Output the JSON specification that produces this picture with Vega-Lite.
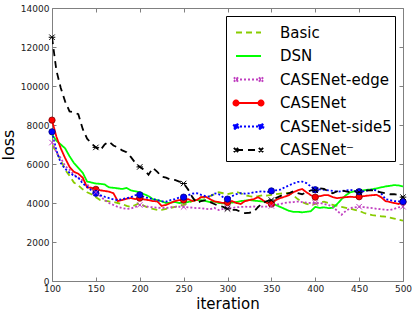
{
"$schema": "https://vega.github.io/schema/vega-lite/v6.json",
"width": 351, "height": 273,
"autosize": {"type": "none"},
"padding": {"left": 52, "top": 8, "right": 12, "bottom": 31},
"config": {
  "font": "DejaVu Sans",
  "view": {"stroke": "#808080", "strokeWidth": 1},
  "axis": {"domain": false, "grid": false, "tickColor": "#808080", "tickSize": 4, "labelFont": "DejaVu Sans", "labelFontSize": 9, "labelColor": "#222222", "labelFlush": false, "titleFont": "DejaVu Sans", "titleFontSize": 16, "titleFontWeight": "normal", "titleColor": "#000000", "labelPadding": 3},
  "legend": {"orient": "top-right", "offset": 8, "padding": 3, "strokeColor": "#000000", "fillColor": "#ffffff", "symbolType": "stroke", "symbolSize": 625, "symbolStrokeWidth": 2, "symbolOffset": 6, "labelFont": "DejaVu Sans", "labelFontSize": 15, "labelColor": "#000000", "rowPadding": 1.5, "labelOffset": 18, "cornerRadius": 0}
},
"data": {"values": [
{"series":"Basic","iteration":100,"loss":7000},{"series":"Basic","iteration":105,"loss":6600},{"series":"Basic","iteration":110,"loss":6200},{"series":"Basic","iteration":115,"loss":5700},{"series":"Basic","iteration":120,"loss":5400},{"series":"Basic","iteration":125,"loss":5050},{"series":"Basic","iteration":130,"loss":4900},{"series":"Basic","iteration":135,"loss":4700},{"series":"Basic","iteration":140,"loss":4550},{"series":"Basic","iteration":145,"loss":4450},{"series":"Basic","iteration":150,"loss":4300},{"series":"Basic","iteration":155,"loss":4150},{"series":"Basic","iteration":160,"loss":4120},{"series":"Basic","iteration":165,"loss":4080},{"series":"Basic","iteration":170,"loss":4050},{"series":"Basic","iteration":175,"loss":4000},{"series":"Basic","iteration":180,"loss":3950},{"series":"Basic","iteration":185,"loss":3850},{"series":"Basic","iteration":190,"loss":3800},{"series":"Basic","iteration":195,"loss":3900},{"series":"Basic","iteration":200,"loss":4000},{"series":"Basic","iteration":205,"loss":3850},{"series":"Basic","iteration":210,"loss":3750},{"series":"Basic","iteration":215,"loss":3700},{"series":"Basic","iteration":220,"loss":3650},{"series":"Basic","iteration":225,"loss":3650},{"series":"Basic","iteration":230,"loss":3700},{"series":"Basic","iteration":235,"loss":3750},{"series":"Basic","iteration":240,"loss":3800},{"series":"Basic","iteration":245,"loss":3850},{"series":"Basic","iteration":250,"loss":3900},{"series":"Basic","iteration":255,"loss":4000},{"series":"Basic","iteration":260,"loss":4100},{"series":"Basic","iteration":265,"loss":4200},{"series":"Basic","iteration":270,"loss":4300},{"series":"Basic","iteration":275,"loss":4250},{"series":"Basic","iteration":280,"loss":4350},{"series":"Basic","iteration":285,"loss":4450},{"series":"Basic","iteration":290,"loss":4550},{"series":"Basic","iteration":295,"loss":4500},{"series":"Basic","iteration":300,"loss":4450},{"series":"Basic","iteration":305,"loss":4500},{"series":"Basic","iteration":310,"loss":4580},{"series":"Basic","iteration":315,"loss":4500},{"series":"Basic","iteration":320,"loss":4400},{"series":"Basic","iteration":325,"loss":4350},{"series":"Basic","iteration":330,"loss":4320},{"series":"Basic","iteration":335,"loss":4350},{"series":"Basic","iteration":340,"loss":4400},{"series":"Basic","iteration":345,"loss":4380},{"series":"Basic","iteration":350,"loss":4420},{"series":"Basic","iteration":355,"loss":4450},{"series":"Basic","iteration":360,"loss":4480},{"series":"Basic","iteration":365,"loss":4500},{"series":"Basic","iteration":370,"loss":4520},{"series":"Basic","iteration":375,"loss":4400},{"series":"Basic","iteration":380,"loss":4200},{"series":"Basic","iteration":385,"loss":4050},{"series":"Basic","iteration":390,"loss":3950},{"series":"Basic","iteration":395,"loss":3900},{"series":"Basic","iteration":400,"loss":3950},{"series":"Basic","iteration":405,"loss":4000},{"series":"Basic","iteration":410,"loss":4070},{"series":"Basic","iteration":415,"loss":4000},{"series":"Basic","iteration":420,"loss":3900},{"series":"Basic","iteration":425,"loss":3850},{"series":"Basic","iteration":430,"loss":3800},{"series":"Basic","iteration":435,"loss":3750},{"series":"Basic","iteration":440,"loss":3700},{"series":"Basic","iteration":445,"loss":3650},{"series":"Basic","iteration":450,"loss":3600},{"series":"Basic","iteration":455,"loss":3500},{"series":"Basic","iteration":460,"loss":3420},{"series":"Basic","iteration":465,"loss":3380},{"series":"Basic","iteration":470,"loss":3350},{"series":"Basic","iteration":475,"loss":3320},{"series":"Basic","iteration":480,"loss":3300},{"series":"Basic","iteration":485,"loss":3250},{"series":"Basic","iteration":490,"loss":3200},{"series":"Basic","iteration":495,"loss":3150},{"series":"Basic","iteration":500,"loss":3100},
{"series":"DSN","iteration":100,"loss":7500},{"series":"DSN","iteration":105,"loss":7200},{"series":"DSN","iteration":110,"loss":7000},{"series":"DSN","iteration":115,"loss":6800},{"series":"DSN","iteration":120,"loss":6400},{"series":"DSN","iteration":125,"loss":6050},{"series":"DSN","iteration":130,"loss":5800},{"series":"DSN","iteration":135,"loss":5550},{"series":"DSN","iteration":140,"loss":5100},{"series":"DSN","iteration":145,"loss":5050},{"series":"DSN","iteration":150,"loss":5000},{"series":"DSN","iteration":155,"loss":4980},{"series":"DSN","iteration":160,"loss":4950},{"series":"DSN","iteration":165,"loss":4800},{"series":"DSN","iteration":170,"loss":4780},{"series":"DSN","iteration":175,"loss":4750},{"series":"DSN","iteration":180,"loss":4720},{"series":"DSN","iteration":185,"loss":4770},{"series":"DSN","iteration":190,"loss":4650},{"series":"DSN","iteration":195,"loss":4600},{"series":"DSN","iteration":200,"loss":4550},{"series":"DSN","iteration":205,"loss":4450},{"series":"DSN","iteration":210,"loss":4350},{"series":"DSN","iteration":215,"loss":4200},{"series":"DSN","iteration":220,"loss":4150},{"series":"DSN","iteration":225,"loss":4080},{"series":"DSN","iteration":230,"loss":4000},{"series":"DSN","iteration":235,"loss":4020},{"series":"DSN","iteration":240,"loss":4050},{"series":"DSN","iteration":245,"loss":4000},{"series":"DSN","iteration":250,"loss":4020},{"series":"DSN","iteration":255,"loss":4050},{"series":"DSN","iteration":260,"loss":4120},{"series":"DSN","iteration":265,"loss":4150},{"series":"DSN","iteration":270,"loss":4150},{"series":"DSN","iteration":275,"loss":4100},{"series":"DSN","iteration":280,"loss":4050},{"series":"DSN","iteration":285,"loss":4080},{"series":"DSN","iteration":290,"loss":4000},{"series":"DSN","iteration":295,"loss":3980},{"series":"DSN","iteration":300,"loss":4000},{"series":"DSN","iteration":305,"loss":4020},{"series":"DSN","iteration":310,"loss":4050},{"series":"DSN","iteration":315,"loss":4100},{"series":"DSN","iteration":320,"loss":4120},{"series":"DSN","iteration":325,"loss":4150},{"series":"DSN","iteration":330,"loss":4120},{"series":"DSN","iteration":335,"loss":4100},{"series":"DSN","iteration":340,"loss":4080},{"series":"DSN","iteration":345,"loss":4050},{"series":"DSN","iteration":350,"loss":4000},{"series":"DSN","iteration":355,"loss":3900},{"series":"DSN","iteration":360,"loss":3800},{"series":"DSN","iteration":365,"loss":3700},{"series":"DSN","iteration":370,"loss":3600},{"series":"DSN","iteration":375,"loss":3550},{"series":"DSN","iteration":380,"loss":3550},{"series":"DSN","iteration":385,"loss":3520},{"series":"DSN","iteration":390,"loss":3550},{"series":"DSN","iteration":395,"loss":3580},{"series":"DSN","iteration":400,"loss":3800},{"series":"DSN","iteration":405,"loss":3750},{"series":"DSN","iteration":410,"loss":3780},{"series":"DSN","iteration":415,"loss":3740},{"series":"DSN","iteration":420,"loss":3750},{"series":"DSN","iteration":425,"loss":3950},{"series":"DSN","iteration":430,"loss":4200},{"series":"DSN","iteration":435,"loss":4400},{"series":"DSN","iteration":440,"loss":4550},{"series":"DSN","iteration":445,"loss":4600},{"series":"DSN","iteration":450,"loss":4620},{"series":"DSN","iteration":455,"loss":4650},{"series":"DSN","iteration":460,"loss":4680},{"series":"DSN","iteration":465,"loss":4700},{"series":"DSN","iteration":470,"loss":4750},{"series":"DSN","iteration":475,"loss":4800},{"series":"DSN","iteration":480,"loss":4850},{"series":"DSN","iteration":485,"loss":4880},{"series":"DSN","iteration":490,"loss":4920},{"series":"DSN","iteration":495,"loss":4900},{"series":"DSN","iteration":500,"loss":4850},
{"series":"CASENet-edge","iteration":100,"loss":7100},{"series":"CASENet-edge","iteration":105,"loss":6600},{"series":"CASENet-edge","iteration":110,"loss":6300},{"series":"CASENet-edge","iteration":115,"loss":5900},{"series":"CASENet-edge","iteration":120,"loss":5700},{"series":"CASENet-edge","iteration":125,"loss":5450},{"series":"CASENet-edge","iteration":130,"loss":5300},{"series":"CASENet-edge","iteration":135,"loss":5150},{"series":"CASENet-edge","iteration":140,"loss":4950},{"series":"CASENet-edge","iteration":145,"loss":4750},{"series":"CASENet-edge","iteration":150,"loss":4550},{"series":"CASENet-edge","iteration":155,"loss":4350},{"series":"CASENet-edge","iteration":160,"loss":4150},{"series":"CASENet-edge","iteration":165,"loss":4000},{"series":"CASENet-edge","iteration":170,"loss":3900},{"series":"CASENet-edge","iteration":175,"loss":3800},{"series":"CASENet-edge","iteration":180,"loss":3740},{"series":"CASENet-edge","iteration":185,"loss":3700},{"series":"CASENet-edge","iteration":190,"loss":3720},{"series":"CASENet-edge","iteration":195,"loss":3800},{"series":"CASENet-edge","iteration":200,"loss":3900},{"series":"CASENet-edge","iteration":205,"loss":3850},{"series":"CASENet-edge","iteration":210,"loss":3800},{"series":"CASENet-edge","iteration":215,"loss":3780},{"series":"CASENet-edge","iteration":220,"loss":3760},{"series":"CASENet-edge","iteration":225,"loss":3750},{"series":"CASENet-edge","iteration":230,"loss":3740},{"series":"CASENet-edge","iteration":235,"loss":3780},{"series":"CASENet-edge","iteration":240,"loss":3800},{"series":"CASENet-edge","iteration":245,"loss":3810},{"series":"CASENet-edge","iteration":250,"loss":3800},{"series":"CASENet-edge","iteration":255,"loss":3780},{"series":"CASENet-edge","iteration":260,"loss":3760},{"series":"CASENet-edge","iteration":265,"loss":3740},{"series":"CASENet-edge","iteration":270,"loss":3740},{"series":"CASENet-edge","iteration":275,"loss":3700},{"series":"CASENet-edge","iteration":280,"loss":3680},{"series":"CASENet-edge","iteration":285,"loss":3750},{"series":"CASENet-edge","iteration":290,"loss":3640},{"series":"CASENet-edge","iteration":295,"loss":3700},{"series":"CASENet-edge","iteration":300,"loss":3740},{"series":"CASENet-edge","iteration":305,"loss":3740},{"series":"CASENet-edge","iteration":310,"loss":3780},{"series":"CASENet-edge","iteration":315,"loss":3800},{"series":"CASENet-edge","iteration":320,"loss":3810},{"series":"CASENet-edge","iteration":325,"loss":3800},{"series":"CASENet-edge","iteration":330,"loss":3820},{"series":"CASENet-edge","iteration":335,"loss":3800},{"series":"CASENet-edge","iteration":340,"loss":3810},{"series":"CASENet-edge","iteration":345,"loss":3820},{"series":"CASENet-edge","iteration":350,"loss":3850},{"series":"CASENet-edge","iteration":355,"loss":3900},{"series":"CASENet-edge","iteration":360,"loss":3950},{"series":"CASENet-edge","iteration":365,"loss":4000},{"series":"CASENet-edge","iteration":370,"loss":4030},{"series":"CASENet-edge","iteration":375,"loss":4050},{"series":"CASENet-edge","iteration":380,"loss":4070},{"series":"CASENet-edge","iteration":385,"loss":4050},{"series":"CASENet-edge","iteration":390,"loss":4020},{"series":"CASENet-edge","iteration":395,"loss":4000},{"series":"CASENet-edge","iteration":400,"loss":4000},{"series":"CASENet-edge","iteration":405,"loss":4000},{"series":"CASENet-edge","iteration":410,"loss":3950},{"series":"CASENet-edge","iteration":415,"loss":3900},{"series":"CASENet-edge","iteration":420,"loss":3810},{"series":"CASENet-edge","iteration":425,"loss":3600},{"series":"CASENet-edge","iteration":430,"loss":3400},{"series":"CASENet-edge","iteration":435,"loss":3600},{"series":"CASENet-edge","iteration":440,"loss":3740},{"series":"CASENet-edge","iteration":445,"loss":3780},{"series":"CASENet-edge","iteration":450,"loss":3810},{"series":"CASENet-edge","iteration":455,"loss":3790},{"series":"CASENet-edge","iteration":460,"loss":3760},{"series":"CASENet-edge","iteration":465,"loss":3740},{"series":"CASENet-edge","iteration":470,"loss":3700},{"series":"CASENet-edge","iteration":475,"loss":3680},{"series":"CASENet-edge","iteration":480,"loss":3650},{"series":"CASENet-edge","iteration":485,"loss":3640},{"series":"CASENet-edge","iteration":490,"loss":3700},{"series":"CASENet-edge","iteration":495,"loss":3780},{"series":"CASENet-edge","iteration":500,"loss":3810},
{"series":"CASENet","iteration":100,"loss":8250},{"series":"CASENet","iteration":105,"loss":7400},{"series":"CASENet","iteration":110,"loss":6800},{"series":"CASENet","iteration":115,"loss":6300},{"series":"CASENet","iteration":120,"loss":5850},{"series":"CASENet","iteration":125,"loss":5600},{"series":"CASENet","iteration":130,"loss":5500},{"series":"CASENet","iteration":135,"loss":5300},{"series":"CASENet","iteration":140,"loss":4800},{"series":"CASENet","iteration":145,"loss":4780},{"series":"CASENet","iteration":150,"loss":4700},{"series":"CASENet","iteration":155,"loss":4650},{"series":"CASENet","iteration":160,"loss":4620},{"series":"CASENet","iteration":165,"loss":4580},{"series":"CASENet","iteration":170,"loss":4500},{"series":"CASENet","iteration":175,"loss":4100},{"series":"CASENet","iteration":180,"loss":4150},{"series":"CASENet","iteration":185,"loss":4220},{"series":"CASENet","iteration":190,"loss":4250},{"series":"CASENet","iteration":195,"loss":4200},{"series":"CASENet","iteration":200,"loss":4250},{"series":"CASENet","iteration":205,"loss":4180},{"series":"CASENet","iteration":210,"loss":4150},{"series":"CASENet","iteration":215,"loss":4100},{"series":"CASENet","iteration":220,"loss":4080},{"series":"CASENet","iteration":225,"loss":3850},{"series":"CASENet","iteration":230,"loss":3900},{"series":"CASENet","iteration":235,"loss":4000},{"series":"CASENet","iteration":240,"loss":4100},{"series":"CASENet","iteration":245,"loss":4150},{"series":"CASENet","iteration":250,"loss":4150},{"series":"CASENet","iteration":255,"loss":4200},{"series":"CASENet","iteration":260,"loss":4100},{"series":"CASENet","iteration":265,"loss":4150},{"series":"CASENet","iteration":270,"loss":4300},{"series":"CASENet","iteration":275,"loss":4320},{"series":"CASENet","iteration":280,"loss":4200},{"series":"CASENet","iteration":285,"loss":4080},{"series":"CASENet","iteration":290,"loss":4050},{"series":"CASENet","iteration":295,"loss":4000},{"series":"CASENet","iteration":300,"loss":4020},{"series":"CASENet","iteration":305,"loss":4100},{"series":"CASENet","iteration":310,"loss":4000},{"series":"CASENet","iteration":315,"loss":3950},{"series":"CASENet","iteration":320,"loss":4100},{"series":"CASENet","iteration":325,"loss":4150},{"series":"CASENet","iteration":330,"loss":4200},{"series":"CASENet","iteration":335,"loss":4300},{"series":"CASENet","iteration":340,"loss":4150},{"series":"CASENet","iteration":345,"loss":4000},{"series":"CASENet","iteration":350,"loss":3950},{"series":"CASENet","iteration":355,"loss":4150},{"series":"CASENet","iteration":360,"loss":4250},{"series":"CASENet","iteration":365,"loss":4320},{"series":"CASENet","iteration":370,"loss":4400},{"series":"CASENet","iteration":375,"loss":4550},{"series":"CASENet","iteration":380,"loss":4650},{"series":"CASENet","iteration":385,"loss":4720},{"series":"CASENet","iteration":390,"loss":4550},{"series":"CASENet","iteration":395,"loss":4400},{"series":"CASENet","iteration":400,"loss":4300},{"series":"CASENet","iteration":405,"loss":4350},{"series":"CASENet","iteration":410,"loss":4400},{"series":"CASENet","iteration":415,"loss":4400},{"series":"CASENet","iteration":420,"loss":4300},{"series":"CASENet","iteration":425,"loss":4250},{"series":"CASENet","iteration":430,"loss":4280},{"series":"CASENet","iteration":435,"loss":4300},{"series":"CASENet","iteration":440,"loss":4320},{"series":"CASENet","iteration":445,"loss":4300},{"series":"CASENet","iteration":450,"loss":4320},{"series":"CASENet","iteration":455,"loss":4350},{"series":"CASENet","iteration":460,"loss":4380},{"series":"CASENet","iteration":465,"loss":4400},{"series":"CASENet","iteration":470,"loss":4420},{"series":"CASENet","iteration":475,"loss":4300},{"series":"CASENet","iteration":480,"loss":4100},{"series":"CASENet","iteration":485,"loss":4050},{"series":"CASENet","iteration":490,"loss":4000},{"series":"CASENet","iteration":495,"loss":3950},{"series":"CASENet","iteration":500,"loss":4050},
{"series":"CASENet-side5","iteration":100,"loss":7650},{"series":"CASENet-side5","iteration":105,"loss":6700},{"series":"CASENet-side5","iteration":110,"loss":6050},{"series":"CASENet-side5","iteration":115,"loss":5750},{"series":"CASENet-side5","iteration":120,"loss":5550},{"series":"CASENet-side5","iteration":125,"loss":5400},{"series":"CASENet-side5","iteration":130,"loss":5300},{"series":"CASENet-side5","iteration":135,"loss":5000},{"series":"CASENet-side5","iteration":140,"loss":4830},{"series":"CASENet-side5","iteration":145,"loss":4650},{"series":"CASENet-side5","iteration":150,"loss":4500},{"series":"CASENet-side5","iteration":155,"loss":4400},{"series":"CASENet-side5","iteration":160,"loss":4320},{"series":"CASENet-side5","iteration":165,"loss":4250},{"series":"CASENet-side5","iteration":170,"loss":4180},{"series":"CASENet-side5","iteration":175,"loss":4150},{"series":"CASENet-side5","iteration":180,"loss":4200},{"series":"CASENet-side5","iteration":185,"loss":4250},{"series":"CASENet-side5","iteration":190,"loss":4300},{"series":"CASENet-side5","iteration":195,"loss":4400},{"series":"CASENet-side5","iteration":200,"loss":4420},{"series":"CASENet-side5","iteration":205,"loss":4300},{"series":"CASENet-side5","iteration":210,"loss":4250},{"series":"CASENet-side5","iteration":215,"loss":4200},{"series":"CASENet-side5","iteration":220,"loss":4150},{"series":"CASENet-side5","iteration":225,"loss":4100},{"series":"CASENet-side5","iteration":230,"loss":4070},{"series":"CASENet-side5","iteration":235,"loss":4150},{"series":"CASENet-side5","iteration":240,"loss":4200},{"series":"CASENet-side5","iteration":245,"loss":4280},{"series":"CASENet-side5","iteration":250,"loss":4300},{"series":"CASENet-side5","iteration":255,"loss":4400},{"series":"CASENet-side5","iteration":260,"loss":4480},{"series":"CASENet-side5","iteration":265,"loss":4500},{"series":"CASENet-side5","iteration":270,"loss":4420},{"series":"CASENet-side5","iteration":275,"loss":4350},{"series":"CASENet-side5","iteration":280,"loss":4320},{"series":"CASENet-side5","iteration":285,"loss":4500},{"series":"CASENet-side5","iteration":290,"loss":4450},{"series":"CASENet-side5","iteration":295,"loss":4300},{"series":"CASENet-side5","iteration":300,"loss":4200},{"series":"CASENet-side5","iteration":305,"loss":4350},{"series":"CASENet-side5","iteration":310,"loss":4450},{"series":"CASENet-side5","iteration":315,"loss":4500},{"series":"CASENet-side5","iteration":320,"loss":4480},{"series":"CASENet-side5","iteration":325,"loss":4500},{"series":"CASENet-side5","iteration":330,"loss":4550},{"series":"CASENet-side5","iteration":335,"loss":4580},{"series":"CASENet-side5","iteration":340,"loss":4600},{"series":"CASENet-side5","iteration":345,"loss":4550},{"series":"CASENet-side5","iteration":350,"loss":4620},{"series":"CASENet-side5","iteration":355,"loss":4650},{"series":"CASENet-side5","iteration":360,"loss":4680},{"series":"CASENet-side5","iteration":365,"loss":4800},{"series":"CASENet-side5","iteration":370,"loss":4900},{"series":"CASENet-side5","iteration":375,"loss":5000},{"series":"CASENet-side5","iteration":380,"loss":5080},{"series":"CASENet-side5","iteration":385,"loss":5100},{"series":"CASENet-side5","iteration":390,"loss":5020},{"series":"CASENet-side5","iteration":395,"loss":4850},{"series":"CASENet-side5","iteration":400,"loss":4680},{"series":"CASENet-side5","iteration":405,"loss":4700},{"series":"CASENet-side5","iteration":410,"loss":4680},{"series":"CASENet-side5","iteration":415,"loss":4650},{"series":"CASENet-side5","iteration":420,"loss":4620},{"series":"CASENet-side5","iteration":425,"loss":4580},{"series":"CASENet-side5","iteration":430,"loss":4600},{"series":"CASENet-side5","iteration":435,"loss":4650},{"series":"CASENet-side5","iteration":440,"loss":4670},{"series":"CASENet-side5","iteration":445,"loss":4620},{"series":"CASENet-side5","iteration":450,"loss":4580},{"series":"CASENet-side5","iteration":455,"loss":4600},{"series":"CASENet-side5","iteration":460,"loss":4650},{"series":"CASENet-side5","iteration":465,"loss":4680},{"series":"CASENet-side5","iteration":470,"loss":4650},{"series":"CASENet-side5","iteration":475,"loss":4500},{"series":"CASENet-side5","iteration":480,"loss":4200},{"series":"CASENet-side5","iteration":485,"loss":4150},{"series":"CASENet-side5","iteration":490,"loss":4100},{"series":"CASENet-side5","iteration":495,"loss":4080},{"series":"CASENet-side5","iteration":500,"loss":4070},
{"series":"CASENet⁻","iteration":100,"loss":12500},{"series":"CASENet⁻","iteration":105,"loss":10800},{"series":"CASENet⁻","iteration":110,"loss":9900},{"series":"CASENet⁻","iteration":115,"loss":9200},{"series":"CASENet⁻","iteration":120,"loss":8700},{"series":"CASENet⁻","iteration":125,"loss":8650},{"series":"CASENet⁻","iteration":130,"loss":8550},{"series":"CASENet⁻","iteration":135,"loss":7800},{"series":"CASENet⁻","iteration":140,"loss":7300},{"series":"CASENet⁻","iteration":145,"loss":7050},{"series":"CASENet⁻","iteration":150,"loss":6850},{"series":"CASENet⁻","iteration":155,"loss":6700},{"series":"CASENet⁻","iteration":160,"loss":7000},{"series":"CASENet⁻","iteration":165,"loss":7150},{"series":"CASENet⁻","iteration":170,"loss":6950},{"series":"CASENet⁻","iteration":175,"loss":6850},{"series":"CASENet⁻","iteration":180,"loss":6700},{"series":"CASENet⁻","iteration":185,"loss":6600},{"series":"CASENet⁻","iteration":190,"loss":6350},{"series":"CASENet⁻","iteration":195,"loss":6050},{"series":"CASENet⁻","iteration":200,"loss":5850},{"series":"CASENet⁻","iteration":205,"loss":5700},{"series":"CASENet⁻","iteration":210,"loss":5450},{"series":"CASENet⁻","iteration":215,"loss":5800},{"series":"CASENet⁻","iteration":220,"loss":5600},{"series":"CASENet⁻","iteration":225,"loss":5350},{"series":"CASENet⁻","iteration":230,"loss":5300},{"series":"CASENet⁻","iteration":235,"loss":5200},{"series":"CASENet⁻","iteration":240,"loss":5180},{"series":"CASENet⁻","iteration":245,"loss":5100},{"series":"CASENet⁻","iteration":250,"loss":5000},{"series":"CASENet⁻","iteration":255,"loss":4700},{"series":"CASENet⁻","iteration":260,"loss":4300},{"series":"CASENet⁻","iteration":265,"loss":4000},{"series":"CASENet⁻","iteration":270,"loss":4100},{"series":"CASENet⁻","iteration":275,"loss":4150},{"series":"CASENet⁻","iteration":280,"loss":4050},{"series":"CASENet⁻","iteration":285,"loss":3950},{"series":"CASENet⁻","iteration":290,"loss":3850},{"series":"CASENet⁻","iteration":295,"loss":3800},{"series":"CASENet⁻","iteration":300,"loss":3700},{"series":"CASENet⁻","iteration":305,"loss":3650},{"series":"CASENet⁻","iteration":310,"loss":3650},{"series":"CASENet⁻","iteration":315,"loss":3550},{"series":"CASENet⁻","iteration":320,"loss":3480},{"series":"CASENet⁻","iteration":325,"loss":3500},{"series":"CASENet⁻","iteration":330,"loss":3550},{"series":"CASENet⁻","iteration":335,"loss":3800},{"series":"CASENet⁻","iteration":340,"loss":4000},{"series":"CASENet⁻","iteration":345,"loss":4100},{"series":"CASENet⁻","iteration":350,"loss":4150},{"series":"CASENet⁻","iteration":355,"loss":4250},{"series":"CASENet⁻","iteration":360,"loss":4350},{"series":"CASENet⁻","iteration":365,"loss":4450},{"series":"CASENet⁻","iteration":370,"loss":4500},{"series":"CASENet⁻","iteration":375,"loss":4600},{"series":"CASENet⁻","iteration":380,"loss":4500},{"series":"CASENet⁻","iteration":385,"loss":4450},{"series":"CASENet⁻","iteration":390,"loss":4550},{"series":"CASENet⁻","iteration":395,"loss":4650},{"series":"CASENet⁻","iteration":400,"loss":4650},{"series":"CASENet⁻","iteration":405,"loss":4750},{"series":"CASENet⁻","iteration":410,"loss":4720},{"series":"CASENet⁻","iteration":415,"loss":4600},{"series":"CASENet⁻","iteration":420,"loss":4500},{"series":"CASENet⁻","iteration":425,"loss":4600},{"series":"CASENet⁻","iteration":430,"loss":4650},{"series":"CASENet⁻","iteration":435,"loss":4600},{"series":"CASENet⁻","iteration":440,"loss":4550},{"series":"CASENet⁻","iteration":445,"loss":4600},{"series":"CASENet⁻","iteration":450,"loss":4550},{"series":"CASENet⁻","iteration":455,"loss":4600},{"series":"CASENet⁻","iteration":460,"loss":4650},{"series":"CASENet⁻","iteration":465,"loss":4650},{"series":"CASENet⁻","iteration":470,"loss":4600},{"series":"CASENet⁻","iteration":475,"loss":4550},{"series":"CASENet⁻","iteration":480,"loss":4500},{"series":"CASENet⁻","iteration":485,"loss":4450},{"series":"CASENet⁻","iteration":490,"loss":4450},{"series":"CASENet⁻","iteration":495,"loss":4400},{"series":"CASENet⁻","iteration":500,"loss":4300}
]},
"layer": [
  {
    "mark": {"type": "line", "clip": true, "strokeWidth": 1.8},
    "encoding": {
      "x": {"field": "iteration", "type": "quantitative", "scale": {"domain": [100, 500], "nice": false}, "axis": {"values": [100,150,200,250,300,350,400,450,500], "ticks": false, "title": "iteration", "titleFontSize": 15, "titlePadding": 3}},
      "y": {"field": "loss", "type": "quantitative", "scale": {"domain": [0, 14000], "nice": false}, "axis": {"values": [0,2000,4000,6000,8000,10000,12000,14000], "ticks": false, "format": "d", "title": "loss", "titlePadding": 4}},
      "color": {"field": "series", "type": "nominal", "title": null, "scale": {"domain": ["Basic","DSN","CASENet-edge","CASENet","CASENet-side5","CASENet⁻"], "range": ["#88cc00","#00ff00","#c040c0","#ff0000","#0000ff","#000000"]},
        "legend": {"encode": {"symbols": {"update": {
          "shape": {"signal": "(datum.value === 'CASENet' || datum.value === 'CASENet-side5') ? 'M-1,0L1,0M-0.8,0A0.2,0.2,0,1,1,-1.2,0A0.2,0.2,0,1,1,-0.8,0M1.2,0A0.2,0.2,0,1,1,0.8,0A0.2,0.2,0,1,1,1.2,0' : (datum.value === 'CASENet-edge' || datum.value === 'CASENet⁻') ? 'M-1,0L1,0M-1.17,-0.17L-0.83,0.17M-1.17,0.17L-0.83,-0.17M0.83,-0.17L1.17,0.17M0.83,0.17L1.17,-0.17' : 'stroke'"},
          "fill": {"signal": "datum.value === 'CASENet' ? '#ff0000' : datum.value === 'CASENet-side5' ? '#0000ff' : 'transparent'"}
        }}}}},
      "strokeDash": {"field": "series", "type": "nominal", "title": null, "scale": {"domain": ["Basic","DSN","CASENet-edge","CASENet","CASENet-side5","CASENet⁻"], "range": [[6,4],[1,0],[2,2],[1,0],[2,2],[7,5]]}}
    }
  },
  {
    "transform": [{"filter": "datum.iteration % 50 === 0 && (datum.series === 'CASENet' || datum.series === 'CASENet-side5')"}],
    "mark": {"type": "point", "shape": "circle", "filled": true, "size": 40, "strokeWidth": 0.8, "opacity": 1},
    "encoding": {
      "x": {"field": "iteration", "type": "quantitative", "axis": {"orient": "top", "offset": -4, "values": [100,150,200,250,300,350,400,450,500], "labels": false, "title": null}},
      "y": {"field": "loss", "type": "quantitative", "axis": {"orient": "right", "offset": -4, "values": [0,2000,4000,6000,8000,10000,12000,14000], "labels": false, "title": null}},
      "fill": {"condition": {"test": "datum.series === 'CASENet'", "value": "#ff0000"}, "value": "#0000ff"},
      "stroke": {"condition": {"test": "datum.series === 'CASENet'", "value": "#800000"}, "value": "#000080"}
    }
  },
  {
    "transform": [{"filter": "datum.iteration % 50 === 0 && (datum.series === 'CASENet-edge' || datum.series === 'CASENet⁻')"}],
    "mark": {"type": "point", "filled": false, "size": 30, "strokeWidth": 1, "opacity": 1},
    "encoding": {
      "x": {"field": "iteration", "type": "quantitative", "axis": {"orient": "bottom", "offset": -4, "values": [100,150,200,250,300,350,400,450,500], "labels": false, "title": null}},
      "y": {"field": "loss", "type": "quantitative", "axis": {"orient": "left", "offset": -4, "values": [0,2000,4000,6000,8000,10000,12000,14000], "labels": false, "title": null}},
      "shape": {"condition": {"test": "datum.series === 'CASENet-edge'", "value": "M-1,-1L1,1M-1,1L1,-1"}, "value": "M-1,-1L1,1M-1,1L1,-1M-1.2,0L1.2,0"},
      "stroke": {"condition": {"test": "datum.series === 'CASENet-edge'", "value": "#c040c0"}, "value": "#000000"}
    }
  }
],
"resolve": {"axis": {"x": "independent", "y": "independent"}}
}
